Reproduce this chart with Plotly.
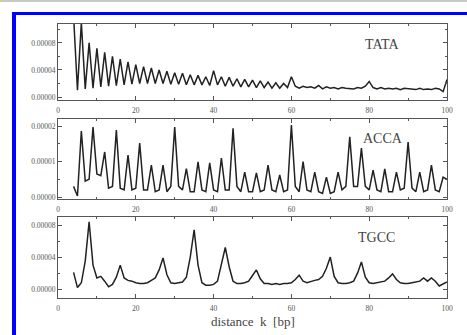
import plotly.graph_objects as go

# distance k [bp]
k = list(range(4, 101))

# values in units of 1e-5
tata = [12, 1.0, 11, 1.2, 8.0, 1.3, 7.2, 1.5, 6.6, 1.6, 6.0, 1.7, 5.6, 1.8, 5.2, 1.9, 4.8,
        2.0, 4.5, 2.0, 4.3, 2.0, 4.0, 2.0, 3.8, 1.9, 3.6, 1.9, 3.5, 1.8, 3.3, 1.8, 3.2, 1.8,
        3.0, 1.7, 3.9, 1.8, 3.0, 1.6, 2.9, 1.6, 2.7, 1.5, 2.6, 1.5, 2.5, 1.4, 2.4, 1.4, 2.2,
        1.3, 2.1, 1.3, 2.0, 1.4, 3.0, 1.6, 1.3, 1.6, 1.4, 1.5, 1.3, 1.7, 1.2, 1.5, 1.3, 1.4,
        1.2, 1.4, 1.3, 1.3, 1.2, 1.4, 1.3, 1.6, 2.3, 1.4, 1.2, 1.4, 1.2, 1.3, 1.2, 1.3, 1.1,
        1.3, 1.2, 1.2, 1.1, 1.3, 1.1, 1.2, 1.1, 1.3, 1.2, 0.8, 2.6]

acca = [0.3, 0.03, 1.86, 0.45, 0.5, 1.97, 0.65, 0.6, 1.27, 0.25, 0.3, 1.89, 0.25, 0.2, 1.18,
        0.2, 0.25, 1.52, 0.2, 0.2, 0.9, 0.15, 0.2, 0.9, 0.15, 0.3, 1.97, 0.3, 0.2, 0.8, 0.15,
        0.15, 0.99, 0.2, 0.15, 0.96, 0.2, 0.15, 1.1, 0.2, 0.2, 1.94, 0.3, 0.15, 0.7, 0.15,
        0.15, 0.68, 0.15, 0.2, 0.9, 0.2, 0.15, 0.62, 0.15, 0.2, 2.03, 0.3, 0.15, 1.0, 0.2,
        0.15, 0.7, 0.15, 0.1, 0.56, 0.1, 0.15, 0.7, 0.2, 0.3, 1.7, 0.3, 0.3, 1.38, 0.3, 0.2,
        0.76, 0.2, 0.15, 0.79, 0.15, 0.15, 0.7, 0.2, 0.25, 1.55, 0.25, 0.15, 0.7, 0.15, 0.2,
        0.9, 0.2, 0.15, 0.56, 0.5]

tgcc = [2.1, 0.2, 0.8, 3.5, 8.4, 3.0, 1.4, 1.6, 1.0, 0.3, 0.6, 1.5, 3.0, 1.4, 1.1, 1.0, 0.8,
        0.7, 0.7, 0.8, 1.1, 1.4, 2.4, 3.9, 1.8, 0.8, 0.7, 0.8, 0.9, 1.5, 4.0, 7.4, 3.0, 0.8,
        0.5, 0.5, 0.6, 1.0, 3.0, 5.2, 2.8, 1.0, 0.7, 0.7, 0.8, 1.0, 1.7, 2.4, 1.3, 0.7, 0.7,
        0.6, 0.7, 0.6, 0.7, 0.7, 0.8, 1.2, 1.75, 1.0, 0.8, 1.0, 1.1, 1.2, 1.6, 2.6, 4.0, 1.6,
        0.8, 0.7, 0.7, 0.8, 1.0, 2.0, 3.4, 1.5, 0.8, 0.7, 0.8, 0.9, 1.0, 1.4, 1.9, 1.2, 0.8,
        0.7, 0.7, 0.8, 0.9, 1.0, 1.4, 1.0, 1.4, 1.0, 0.4, 0.6, 0.9]

names = ["TATA", "ACCA", "TGCC"]
series = [tata, acca, tgcc]
ytickvals = [[0, 4, 8], [0, 1, 2], [0, 4, 8]]
yticktext = [["0.00000", "0.00004", "0.00008"],
             ["0.00000", "0.00001", "0.00002"],
             ["0.00000", "0.00004", "0.00008"]]
yranges = [[-0.44, 10.8], [-0.056, 2.2], [-1.1, 9.0]]
label_pos = [(83.3, 7.7), (83.5, 1.66), (82, 6.4)]
xticks = [0, 20, 40, 60, 80, 100]

W, H = 467, 335
# pixel rows of the three plot areas
rows = [(24, 100), (119, 199), (217, 298)]
xdom = [58 / W, 447 / W]

fig = go.Figure()
serif = "Liberation Serif"
axcol = "#555555"
txtcol = "#555555"

layout = dict(template="none", width=W, height=H, margin=dict(l=0, r=0, t=0, b=0),
              paper_bgcolor="white", plot_bgcolor="white", showlegend=False,
              font=dict(family=serif, color=txtcol))

for i in range(3):
    sfx = "" if i == 0 else str(i + 1)
    fig.add_trace(go.Scatter(x=k, y=series[i], mode="lines",
                             line=dict(color="#222222", width=1.5),
                             xaxis="x" + sfx, yaxis="y" + sfx, hoverinfo="skip"))
    top, bot = rows[i]
    layout["xaxis" + sfx] = dict(
        domain=xdom, anchor="y" + sfx, range=[0, 100], tickvals=xticks,
        ticktext=[str(v) for v in xticks], ticks="inside", ticklen=4, tickcolor=axcol,
        showline=True, linecolor=axcol, linewidth=1, mirror="allticks",
        showgrid=False, zeroline=False, ticklabelstandoff=3,
        tickfont=dict(family=serif, size=7.5, color=txtcol),
        minor=dict(ticks="inside", ticklen=2, dtick=10, tick0=0, tickcolor=axcol, showgrid=False))
    step = ytickvals[i][1] - ytickvals[i][0]
    layout["yaxis" + sfx] = dict(
        domain=[1 - bot / H, 1 - top / H], anchor="x" + sfx, range=yranges[i],
        tickvals=ytickvals[i], ticktext=yticktext[i], ticks="inside", ticklen=4,
        tickcolor=axcol, showline=True, linecolor=axcol, linewidth=1, mirror="allticks",
        showgrid=False, zeroline=False,
        tickfont=dict(family=serif, size=7.5, color=txtcol),
        minor=dict(ticks="inside", ticklen=2, dtick=step / 2, tick0=0, tickcolor=axcol,
                   showgrid=False))

fig.update_layout(**layout)

annotations = []
for i in range(3):
    sfx = "" if i == 0 else str(i + 1)
    annotations.append(dict(x=label_pos[i][0], y=label_pos[i][1], xref="x" + sfx,
                            yref="y" + sfx, text=names[i], showarrow=False,
                            font=dict(family=serif, size=14, color="#444444")))
annotations.append(dict(x=253 / W, y=1 - 321 / H, xref="paper", yref="paper",
                        xanchor="center", yanchor="middle",
                        text="distance  k  [bp]", showarrow=False,
                        font=dict(family=serif, size=13, color="#444444")))
fig.update_layout(annotations=annotations)

shapes = [
    dict(type="rect", xref="paper", yref="paper", x0=0, x1=1, y0=1 - 2 / H, y1=1,
         fillcolor="#c8c8c8", line=dict(width=0), layer="above"),
    dict(type="rect", xref="paper", yref="paper", x0=12 / W, x1=1, y0=1 - 15 / H,
         y1=1 - 12 / H, fillcolor="#0000ff", line=dict(width=0), layer="above"),
    dict(type="rect", xref="paper", yref="paper", x0=12 / W, x1=16 / W, y0=0,
         y1=1 - 12 / H, fillcolor="#0000ff", line=dict(width=0), layer="above"),
]
fig.update_layout(shapes=shapes)

fig.write_html("out.html")
